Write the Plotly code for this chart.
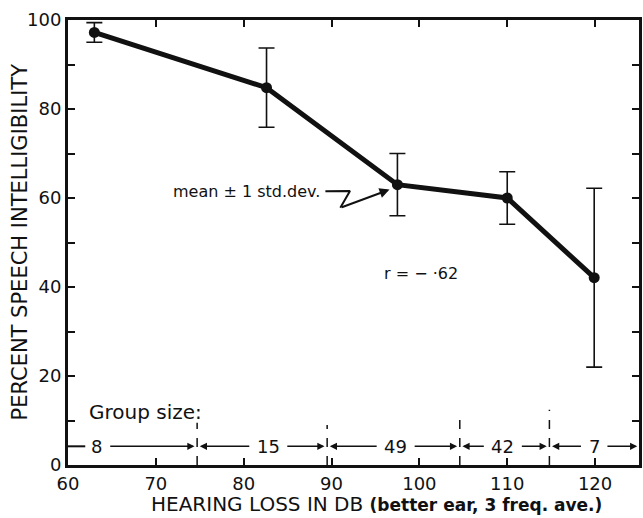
import plotly.graph_objects as go

# ---- data ----
hearing_loss = [63.0, 82.6, 97.5, 110.0, 119.9]
intelligibility = [97.2, 84.8, 63.0, 60.0, 42.1]
std_dev = [2.2, 8.9, 7.0, 5.9, 20.1]

x_ticks = [60, 70, 80, 90, 100, 110, 120]
y_ticks = list(range(0, 101, 10))
y_tick_labels = [str(v) if v % 20 == 0 else "" for v in y_ticks]

group_sizes = ["8", "15", "49", "42", "7"]
group_centers = [63.3, 82.8, 97.3, 109.5, 119.9]
group_bounds = [74.7, 89.5, 104.6, 114.8]
divider_tops = [9.5, 9.0, 11.5, 12.4]
group_row_y = 4.2

# annotation anchors (data units)
note_mean_xy = (88.9, 61.4)
zigzag_x = [89.3, 92.1, 91.0, 96.6]
zigzag_y = [61.5, 61.6, 57.8, 61.9]
note_r_xy = (100.2, 43.1)
note_group_xy = (62.2, 12.0)

X_MAX = 125
FONT = "DejaVu Sans"
INK = "#111111"

fig = go.Figure()

fig.add_trace(go.Scatter(
    x=hearing_loss, y=intelligibility, mode="lines+markers",
    line=dict(color=INK, width=5),
    marker=dict(color=INK, size=11),
    error_y=dict(type="data", array=std_dev, visible=True,
                 color=INK, thickness=1.6, width=8),
    showlegend=False, hoverinfo="skip",
))

# zigzag pointer (first part as a line)
fig.add_trace(go.Scatter(
    x=zigzag_x[:3], y=zigzag_y[:3], mode="lines",
    line=dict(color=INK, width=2), showlegend=False, hoverinfo="skip",
))

annotations = []
shapes = []

annotations.append(dict(
    x=zigzag_x[3], y=zigzag_y[3], ax=zigzag_x[2], ay=zigzag_y[2],
    xref="x", yref="y", axref="x", ayref="y", text="", showarrow=True,
    arrowhead=2, arrowsize=1, arrowwidth=2, arrowcolor=INK, standoff=0,
))
annotations.append(dict(
    x=note_mean_xy[0], y=note_mean_xy[1], xref="x", yref="y",
    text="mean ± 1 std.dev.", showarrow=False, xanchor="right", yanchor="middle",
    font=dict(family=FONT, size=16, color=INK),
))
annotations.append(dict(
    x=note_r_xy[0], y=note_r_xy[1], xref="x", yref="y",
    text="r = − ·62", showarrow=False, xanchor="center", yanchor="middle",
    font=dict(family=FONT, size=16, color=INK),
))
annotations.append(dict(
    x=note_group_xy[0], y=note_group_xy[1], xref="x", yref="y",
    text="Group size:", showarrow=False, xanchor="left", yanchor="middle",
    font=dict(family=FONT, size=20, color=INK),
))

# group-size row
px_per_unit = 574 / (X_MAX - 60)
lefts = [60] + group_bounds
rights = group_bounds + [X_MAX]
for i, lab in enumerate(group_sizes):
    c = group_centers[i]
    hw = (len(lab) * 5.8 + 6) / px_per_unit
    annotations.append(dict(
        x=c, y=group_row_y, xref="x", yref="y", text=lab, showarrow=False,
        xanchor="center", yanchor="middle",
        font=dict(family=FONT, size=18, color=INK),
    ))
    if i == 0:
        shapes.append(dict(type="line", xref="x", yref="y",
                           x0=lefts[i], x1=c - hw, y0=group_row_y, y1=group_row_y,
                           line=dict(color=INK, width=2)))
    else:
        annotations.append(dict(
            x=lefts[i] + 0.3, y=group_row_y, ax=c - hw, ay=group_row_y,
            xref="x", yref="y", axref="x", ayref="y", text="", showarrow=True,
            arrowhead=2, arrowsize=0.9, arrowwidth=1.6, arrowcolor=INK, standoff=0,
        ))
    tip = rights[i] - 0.3 if i < len(group_sizes) - 1 else rights[i] - 0.2
    annotations.append(dict(
        x=tip, y=group_row_y, ax=c + hw, ay=group_row_y,
        xref="x", yref="y", axref="x", ayref="y", text="", showarrow=True,
        arrowhead=2, arrowsize=0.9, arrowwidth=1.6, arrowcolor=INK, standoff=0,
    ))

for b, top in zip(group_bounds, divider_tops):
    shapes.append(dict(type="line", xref="x", yref="y", x0=b, x1=b, y0=0, y1=top,
                       line=dict(color=INK, width=1.5, dash="dash")))

# axis titles
annotations.append(dict(
    x=0, y=0.5, xref="paper", yref="paper", xshift=-49,
    text="PERCENT SPEECH INTELLIGIBILITY", textangle=-90, showarrow=False,
    xanchor="center", yanchor="middle",
    font=dict(family=FONT, size=21, color=INK),
))
annotations.append(dict(
    x=0.54, y=0, xref="paper", yref="paper", yshift=-39,
    text="HEARING LOSS IN DB <b><span style='font-size:17px'>(better ear, 3 freq. ave.)</span></b>",
    showarrow=False, xanchor="center", yanchor="middle",
    font=dict(family=FONT, size=20, color=INK),
))

axis_common = dict(
    showgrid=False, zeroline=False, showline=True, linecolor=INK, linewidth=3,
    mirror="allticks", ticks="inside", ticklen=7, tickwidth=2, tickcolor=INK,
    tickfont=dict(family=FONT, size=18, color=INK),
)

fig.update_layout(
    width=643, height=518,
    margin=dict(l=68, r=1, t=20, b=53),
    paper_bgcolor="white", plot_bgcolor="white",
    xaxis=dict(range=[60, X_MAX], tickvals=x_ticks, **axis_common),
    yaxis=dict(range=[0, 100], tickvals=y_ticks, ticktext=y_tick_labels, **axis_common),
    annotations=annotations, shapes=shapes,
    showlegend=False,
)

fig.write_html("out.html", config={"displayModeBar": False},
               post_script="document.body.style.margin='0';")
